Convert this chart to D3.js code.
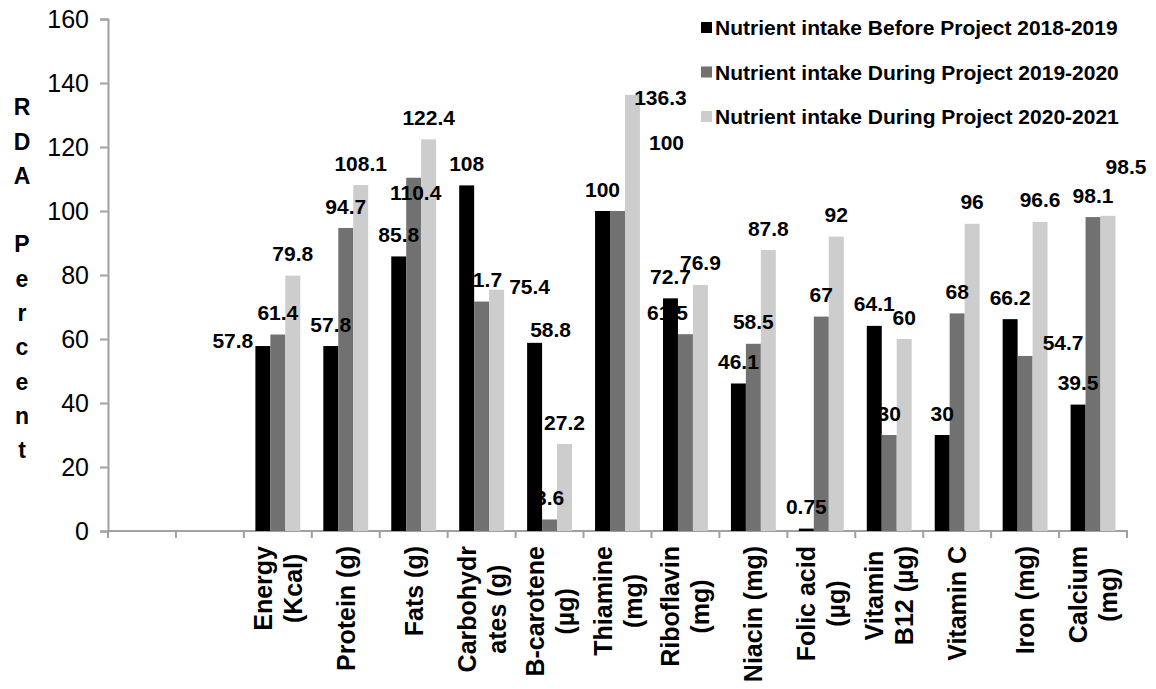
<!DOCTYPE html>
<html>
<head>
<meta charset="utf-8">
<script src="https://cdn.jsdelivr.net/npm/d3@7"></script>
<style>
  body { margin: 0; background: #fff; }
  svg { display: block; }
  text { font-family: "Liberation Sans", Arial, Helvetica, sans-serif; }
</style>
</head>
<body>
<svg id="chart" width="1156" height="689"></svg>
<script>
// Category labels (line breaks as printed under the axis); two empty slots lead the axis
const categories = ["", "", "Energy\n(Kcal)", "Protein (g)", "Fats (g)", "Carbohydr\nates (g)",
  "B-carotene\n(µg)", "Thiamine\n(mg)", "Riboflavin\n(mg)", "Niacin (mg)", "Folic acid\n(µg)",
  "Vitamin\nB12 (µg)", "Vitamin C", "Iron (mg)", "Calcium\n(mg)"];

const seriesNames = [
  "Nutrient intake Before Project 2018-2019",
  "Nutrient intake During Project 2019-2020",
  "Nutrient intake During Project 2020-2021"
];

// % of RDA per nutrient
const before2018 = [null, null, 57.8, 57.8, 85.8, 108, 58.8, 100, 72.7, 46.1, 0.75, 64.1, 30, 66.2, 39.5];
const during2019 = [null, null, 61.4, 94.7, 110.4, 71.7, 3.6, 100, 61.5, 58.5, 67, 30, 68, 54.7, 98.1];
const during2020 = [null, null, 79.8, 108.1, 122.4, 75.4, 27.2, 136.3, 76.9, 87.8, 92, 60, 96, 96.6, 98.5];

const yTicks = [0, 20, 40, 60, 80, 100, 120, 140, 160];
const yTitle = "RDA Percent";

const seriesValues = [before2018, during2019, during2020];
const colors = ["#000000", "#717171", "#cdcdcd"];

// hand-placed value labels (dx, dy from the default spot above the bar)
const labelNudges = {
  "0-2": [-30, 16],
  "1-4": [2, 37],
  "2-5": [33, 19],
  "0-6": [16, 9],
  "1-7": [49, -47],
  "2-7": [28, 25],
  "1-8": [-18, 0],
  "1-13": [38, 8],
  "2-14": [18, -27]
};

const svg = d3.select("#chart");
const axisColor = "#a0a0a0";

const x = d3.scaleBand()
  .domain(d3.range(categories.length))
  .range([108, 1127])
  .padding(0);

const x1 = d3.scaleBand()
  .domain(d3.range(seriesValues.length))
  .range([0, x.bandwidth()])
  .paddingInner(0)
  .paddingOuter(0.77);

const y = d3.scaleLinear().domain([0, 160]).range([531, 19]);

// Y axis
const yAxis = d3.axisLeft(y).tickValues(yTicks).tickSize(8).tickPadding(11);
const gy = svg.append("g").attr("transform", "translate(108,0)").call(yAxis);
gy.select(".domain").attr("stroke", axisColor).attr("stroke-width", 2);
gy.selectAll(".tick line").attr("stroke", axisColor).attr("stroke-width", 2);
gy.selectAll(".tick text")
  .attr("fill", "#000")
  .style("font-size", "25px")
  .style("font-family", "'Liberation Sans', Arial, sans-serif");

// X axis line with boundary ticks
const boundaries = d3.range(categories.length + 1).map(i => i === categories.length ? x.range()[1] : x(i));
svg.append("line")
  .attr("x1", 107).attr("x2", 1128)
  .attr("y1", y(0)).attr("y2", y(0))
  .attr("stroke", axisColor).attr("stroke-width", 2);
svg.append("g").selectAll("line").data(boundaries).join("line")
  .attr("x1", d => d).attr("x2", d => d)
  .attr("y1", y(0)).attr("y2", y(0) + 7)
  .attr("stroke", axisColor).attr("stroke-width", 2);

// Bars
const barData = [];
seriesValues.forEach((vals, s) => {
  vals.forEach((v, c) => { if (v !== null) barData.push({ s, c, v }); });
});

svg.append("g").selectAll("rect").data(barData).join("rect")
  .attr("x", d => x(d.c) + x1(d.s))
  .attr("width", x1.bandwidth())
  .attr("y", d => y(d.v))
  .attr("height", d => y(0) - y(d.v))
  .attr("fill", d => colors[d.s]);

// Value labels
svg.append("g").selectAll("text").data(barData).join("text")
  .attr("x", d => x(d.c) + x1(d.s) + x1.bandwidth() / 2 + (labelNudges[d.s + "-" + d.c] || [0, 0])[0])
  .attr("y", d => y(d.v) - 22 + (labelNudges[d.s + "-" + d.c] || [0, 0])[1])
  .attr("dy", "0.36em")
  .attr("text-anchor", "middle")
  .style("font-size", "21px")
  .style("font-weight", "bold")
  .attr("fill", "#000")
  .text(d => String(d.v));

// Category labels, rotated, top-aligned below the axis
const catG = svg.append("g");
categories.forEach((label, c) => {
  if (!label) return;
  const lines = label.split("\n");
  const g = catG.append("g")
    .attr("transform", `translate(${x(c) + x.bandwidth() / 2},546) rotate(-90)`);
  const texts = lines.map((ln, i) => g.append("text")
    .attr("y", (i - (lines.length - 1) / 2) * 30)
    .attr("dy", "0.36em")
    .attr("text-anchor", "middle")
    .style("font-size", "25px")
    .style("font-weight", "bold")
    .attr("fill", "#000")
    .text(ln));
  const maxW = d3.max(texts, t => t.node().getComputedTextLength());
  texts.forEach(t => t.attr("x", -maxW / 2));
});

// Y axis title, one letter per row
svg.append("g").selectAll("text").data(yTitle.split("")).join("text")
  .attr("x", 22)
  .attr("y", (d, i) => 107 + i * 34.3)
  .attr("dy", "0.36em")
  .attr("text-anchor", "middle")
  .style("font-size", "23px")
  .style("font-weight", "bold")
  .attr("fill", "#000")
  .text(d => d);

// Legend
const legend = svg.append("g").selectAll("g").data(seriesNames).join("g")
  .attr("transform", (d, i) => `translate(701,${27.5 + i * 44.5})`);
legend.append("rect")
  .attr("x", 0).attr("y", -5.5)
  .attr("width", 11).attr("height", 11)
  .attr("fill", (d, i) => colors[i]);
legend.append("text")
  .attr("x", 14)
  .attr("dy", "0.36em")
  .style("font-size", "21px")
  .style("font-weight", "bold")
  .attr("fill", "#000")
  .text(d => d);
</script>
</body>
</html>
